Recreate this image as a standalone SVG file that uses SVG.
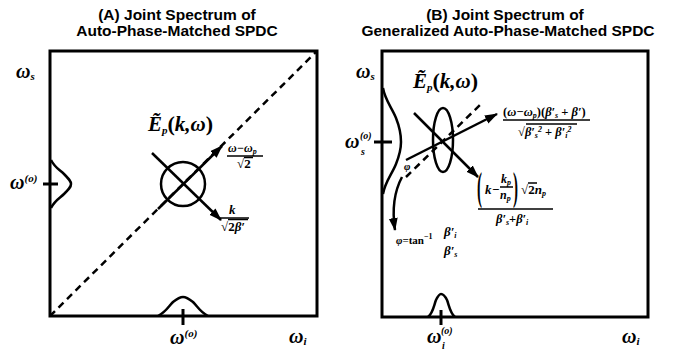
<svg xmlns="http://www.w3.org/2000/svg" width="679" height="353" viewBox="0 0 679 353">
<defs>
<marker id="ah" markerUnits="userSpaceOnUse" markerWidth="14" markerHeight="11" refX="12" refY="4.5" orient="auto"><path d="M0,0 L13,4.5 L0,9 z" fill="#000"/></marker>
<style>
.t{font-family:"Liberation Sans",Arial,sans-serif;font-weight:bold;font-size:15.5px;text-anchor:middle;fill:#000}
.m{font-family:"Liberation Serif","Times New Roman",serif;font-weight:bold;font-style:italic;fill:#000}
.u{font-family:"Liberation Serif","Times New Roman",serif;font-weight:bold;fill:#000}
.box{fill:none;stroke:#000;stroke-width:3}
.ln{fill:none;stroke:#000;stroke-width:2.5}
.thin{fill:none;stroke:#000;stroke-width:1.5}
.dash{fill:none;stroke:#000;stroke-width:2.5;stroke-dasharray:7 5}
.arr{fill:none;stroke:#000;stroke-width:2.5;marker-end:url(#ah)}
</style>
</defs>
<rect width="679" height="353" fill="#fff"/>

<g id="panelA">
<text class="t" x="177" y="20">(A) Joint Spectrum of</text>
<text class="t" x="177" y="36">Auto-Phase-Matched SPDC</text>
<rect class="box" x="50" y="51" width="267" height="265"/>
<line class="dash" x1="50" y1="316" x2="317" y2="51"/>
<path class="ln" d="M51,160 C55,168 60,170 64,174 C69,179 71,181 71,184 C71,187 69,189 64,194 C60,198 55,200 51,208"/>
<line class="box" x1="43" y1="184" x2="58" y2="184"/>
<path class="ln" d="M158,316 C166,312 168,307 173,302 C178,298 180,297 183,297 C186,297 188,298 193,302 C198,307 200,312 208,316"/>
<line class="box" x1="183" y1="309" x2="183" y2="325"/>
<text class="m" x="16" y="78" font-size="20">ω<tspan font-size="11" dy="2">s</tspan></text>
<text class="m" x="10" y="189" font-size="20">ω<tspan font-size="11" dy="-7">(o)</tspan></text>
<text class="m" x="170" y="344" font-size="20">ω<tspan font-size="11" dy="-7">(o)</tspan></text>
<text class="m" x="289" y="343" font-size="20">ω<tspan font-size="11" dy="2">i</tspan></text>
</g>

<g id="stateA">
<circle class="ln" cx="183" cy="184" r="22"/>
<text class="m" x="148" y="131" font-size="21">Ẽ<tspan font-size="11" dy="3">p</tspan><tspan class="u" font-style="normal" font-size="22" dy="-3">(</tspan>k,ω<tspan class="u" font-style="normal" font-size="22">)</tspan></text>
<text class="m" x="228" y="152" font-size="12">ω−ω<tspan font-size="8" dy="2">p</tspan></text>
<line class="thin" x1="227" y1="156" x2="263" y2="156"/>
<text class="u" x="237" y="168" font-size="13">√2</text>
<line class="thin" x1="244" y1="157.5" x2="253" y2="157.5"/>
<text class="m" x="229" y="214" font-size="13">k</text>
<line class="thin" x1="218" y1="218" x2="249" y2="218"/>
<text class="u" x="221" y="231" font-size="13">√2<tspan class="m">β′</tspan></text>
<line class="thin" x1="228" y1="219.5" x2="248" y2="219.5"/>
</g>

<g id="panelB">
<text class="t" x="505" y="20">(B) Joint Spectrum of</text>
<text class="t" x="508" y="36">Generalized Auto-Phase-Matched SPDC</text>
<rect class="box" x="382" y="51" width="266" height="266"/>
<path class="ln" d="M383,88 C385,100 392,108 396,118 C400,128 401,136 401,142 C401,148 400,154 396,164 C392,174 385,182 383,194"/>
<line class="box" x1="374" y1="142" x2="392" y2="142"/>
<path class="ln" d="M428,317 C433,313 434,305 436,300 C438,296 440,294 441,294 C443,294 445,296 447,300 C449,305 450,313 455,317"/>
<line class="box" x1="441" y1="310" x2="441" y2="325"/>
<text class="m" x="356" y="78" font-size="20">ω<tspan font-size="11" dy="2">s</tspan></text>
<text class="m" x="345" y="148" font-size="20">ω</text>
<text class="m" x="360" y="139" font-size="10">(o)</text>
<text class="m" x="361" y="155" font-size="10">s</text>
<text class="m" x="427" y="343" font-size="20">ω</text>
<text class="m" x="441" y="334" font-size="10">(o)</text>
<text class="m" x="442" y="349" font-size="10">i</text>
<text class="m" x="622" y="343" font-size="20">ω<tspan font-size="11" dy="2">i</tspan></text>
</g>

<g id="stateB">
<ellipse class="ln" cx="443" cy="140" rx="10" ry="32"/>
<line class="dash" x1="406" y1="177" x2="482" y2="103"/>
<text class="m" x="413" y="88" font-size="21">Ẽ<tspan font-size="11" dy="3">p</tspan><tspan class="u" font-style="normal" font-size="22" dy="-3">(</tspan>k,ω<tspan class="u" font-style="normal" font-size="22">)</tspan></text>
<text class="m" x="404" y="170" font-size="11">φ</text>
<text class="m" x="396" y="244" font-size="11">φ<tspan class="u" font-style="normal">=tan<tspan font-size="8" dy="-5">−1</tspan></tspan></text>
<text class="m" x="444" y="236" font-size="13">β′<tspan font-size="8" dy="2">i</tspan></text>
<text class="m" x="444" y="255" font-size="13">β′<tspan font-size="8" dy="2">s</tspan></text>
<text class="m" x="503" y="116" font-size="12.5"><tspan class="u" font-style="normal">(</tspan>ω−ω<tspan font-size="8" dy="2">p</tspan><tspan class="u" font-style="normal" dy="-2">)(</tspan>β′<tspan font-size="8" dy="2">s</tspan><tspan class="u" font-style="normal" dy="-2"> + </tspan>β′<tspan class="u" font-style="normal">)</tspan></text>
<line class="thin" x1="503" y1="120" x2="590" y2="120"/>
<text class="u" x="518" y="136" font-size="12.5">√<tspan class="m">β′<tspan font-size="8" dy="2">s</tspan><tspan font-size="8" dy="-6">2</tspan><tspan class="u" font-style="normal" dy="4"> + </tspan>β′<tspan font-size="8" dy="2">i</tspan><tspan font-size="8" dy="-6">2</tspan></tspan></text>
<line class="thin" x1="526" y1="124" x2="577" y2="124"/>
<text class="u" font-size="15" font-weight="normal" transform="translate(477,199.5) scale(1,2.7)">(</text>
<text class="m" x="485" y="194" font-size="13">k</text>
<text class="u" x="492" y="194" font-size="13">−</text>
<text class="m" x="501" y="183" font-size="12">k<tspan font-size="8" dy="2">p</tspan></text>
<line class="thin" x1="500" y1="187" x2="513" y2="187"/>
<text class="m" x="500" y="199" font-size="12">n<tspan font-size="8" dy="2">p</tspan></text>
<text class="u" font-size="15" font-weight="normal" transform="translate(513,199.5) scale(1,2.7)">)</text>
<text class="u" x="521" y="194" font-size="13">√2<tspan class="m">n<tspan font-size="8" dy="2">p</tspan></tspan></text>
<line class="thin" x1="528" y1="183" x2="537" y2="183"/>
<line class="thin" x1="478" y1="209" x2="553" y2="209"/>
<text class="m" x="496" y="223" font-size="12.5">β′<tspan font-size="8" dy="2">s</tspan><tspan class="u" font-style="normal" dy="-2">+</tspan>β′<tspan font-size="8" dy="2">i</tspan></text>
</g>

<g id="connectors">
<line class="arr" x1="152" y1="153" x2="221" y2="220"/>
<line class="arr" x1="158" y1="209" x2="222" y2="146"/>
<line class="arr" x1="406" y1="160" x2="497" y2="114"/>
<line class="arr" x1="414" y1="113" x2="478" y2="177"/>
<path class="arr" d="M402,177 C394,192 392,210 395,230"/>
</g>
</svg>
